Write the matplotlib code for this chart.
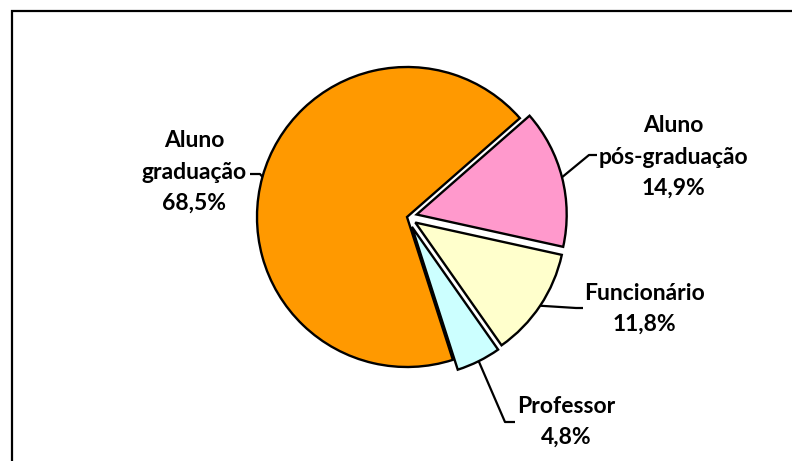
import numpy as np
import matplotlib.pyplot as plt
from matplotlib.patches import Rectangle

# data
labels = ['Aluno\ngraduação', 'Aluno\npós-graduação', 'Funcionário', 'Professor']
values = [68.5, 14.9, 11.8, 4.8]
pct_text = ['68,5%', '14,9%', '11,8%', '4,8%']
colors = ['#FF9900', '#FF99CC', '#FFFFCC', '#CCFFFF']
explode = [0, 10, 10, 11]

W, H = 792, 461
fig = plt.figure(figsize=(W / 100, H / 100), dpi=100)
ax = fig.add_axes([0, 0, 1, 1])

# frame (only left and top visible in the crop)
fig.patches.append(Rectangle((12 / W, -0.2), 1.2, (H - 11) / H + 0.2,
                             transform=fig.transFigure, fill=False,
                             edgecolor='black', linewidth=1.6))

cx, cy, r = 407, H - 217, 150
wedges, _ = ax.pie(values, colors=colors, radius=r, center=(cx, cy),
                   explode=explode, startangle=-72.2, counterclock=False,
                   wedgeprops=dict(edgecolor='black', linewidth=1.7),
                   frame=True)
ax.set_xlim(0, W)
ax.set_ylim(0, H)
ax.set_aspect('equal')
ax.axis('off')

# label layout (image pixel coords): text centre, leader elbow, leader end
lab_pos = [(194, 172), (673, 157), (644, 309), (566, 422)]
elbow = [(260, 174), (589, 155), (576, 308), (505, 422)]
lend = [(250, 174), (597, 155), (583, 308), (515, 422)]

for i, w in enumerate(wedges):
    th = np.deg2rad((w.theta1 + w.theta2) / 2)
    x0 = w.center[0] + w.r * np.cos(th)
    y0 = w.center[1] + w.r * np.sin(th)
    ex, ey = elbow[i]
    lx, ly = lend[i]
    ax.plot([x0, ex, lx], [y0, H - ey, H - ly], color='black', lw=1.6,
            solid_capstyle='butt')
    tx, ty = lab_pos[i]
    ax.text(tx, H - ty, labels[i] + '\n' + pct_text[i], ha='center',
            va='center', fontsize=16.5, fontweight='bold', linespacing=1.6,
            family=['Lato', 'DejaVu Sans'])

fig.savefig('out.png', dpi=100)
